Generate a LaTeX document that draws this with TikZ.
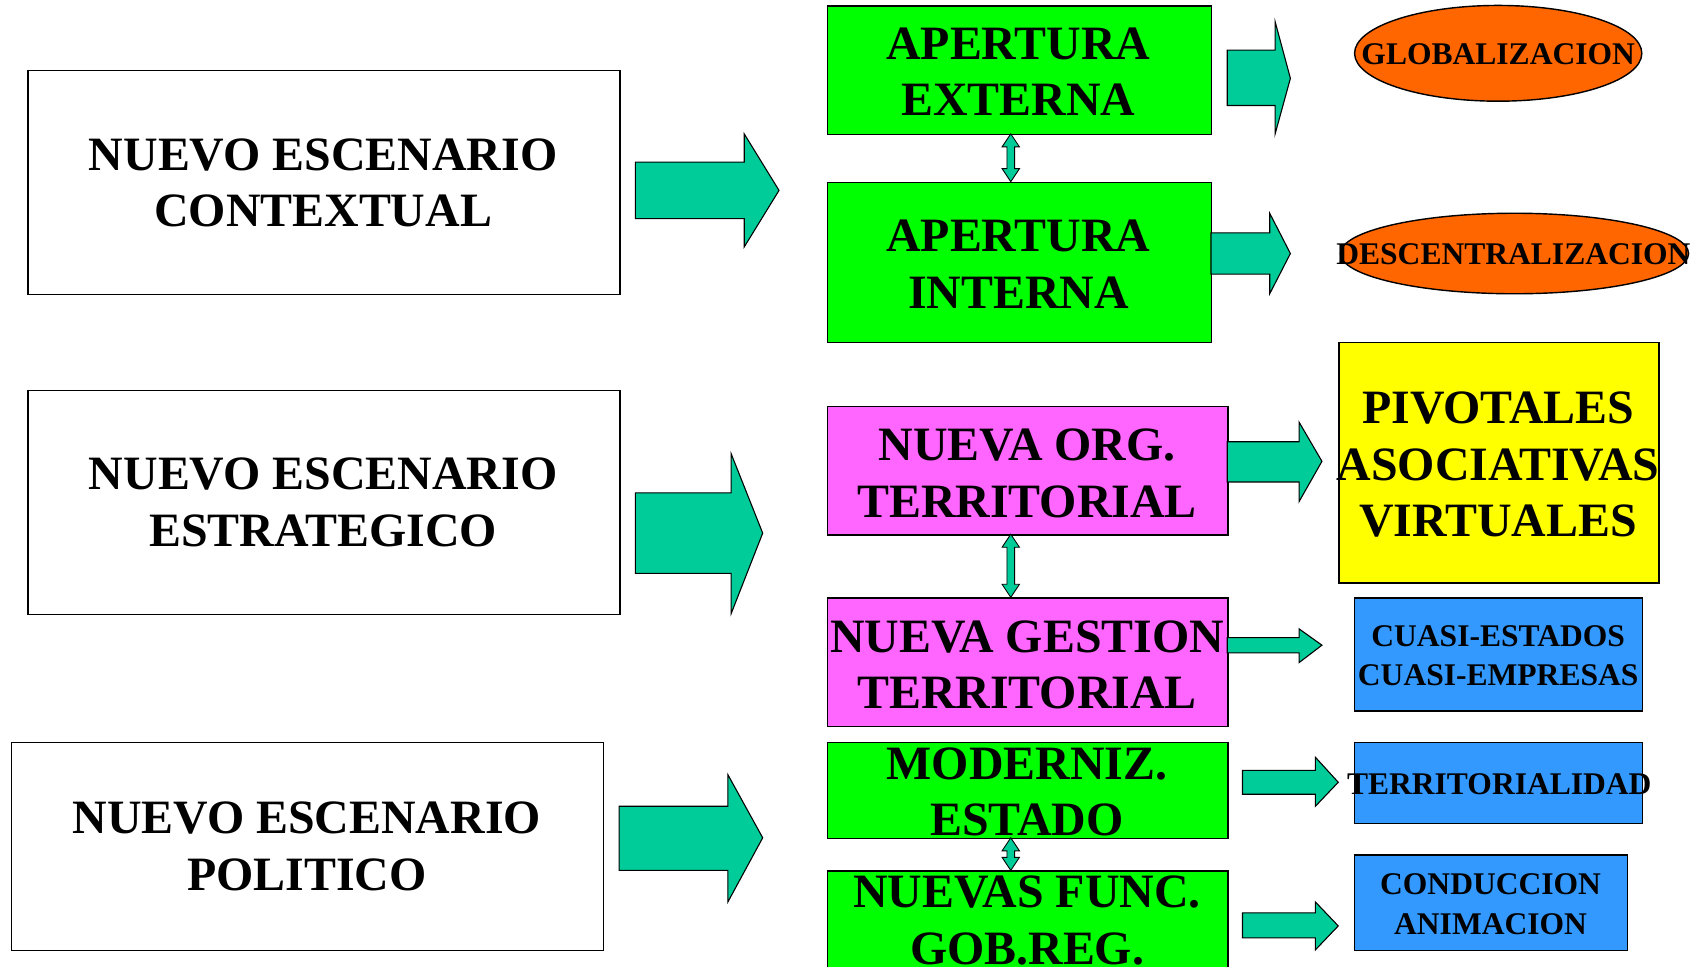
\documentclass[tikz,border=0pt]{standalone}
\usepackage{fontspec}
\setmainfont{Liberation Serif}
\begin{document}
\begin{tikzpicture}[x=1pt,y=-1pt,
  box/.style={draw=black, line width=1.3pt, rectangle, inner sep=0pt, anchor=north west},
  big/.style={font=\fontsize{44}{52}\selectfont\bfseries, align=center, inner sep=0pt, text=black},
  small/.style={font=\fontsize{29}{36}\selectfont\bfseries, align=center, inner sep=0pt, text=black},
  barrow/.style={fill=arrowc, draw=black, line width=1pt, line join=miter},
]
\definecolor{arrowc}{HTML}{00CC99}
\definecolor{greenc}{HTML}{00FF00}
\definecolor{pinkc}{HTML}{FF66FF}
\definecolor{orangec}{HTML}{FF6600}
\definecolor{yellowc}{HTML}{FFFF00}
\definecolor{bluec}{HTML}{3399FF}
\useasboundingbox (0,0) rectangle (1568,888);

% left boxes
\node[box, minimum width=544pt, minimum height=206pt] (L1) at (25,64) {};
\node[big] (L1t) at (297,168) {NUEVO ESCENARIO\\CONTEXTUAL};
\node[box, minimum width=544pt, minimum height=206pt] (L2) at (25,358) {};
\node[big] (L2t) at (297,462) {NUEVO ESCENARIO\\ESTRATEGICO};
\node[box, minimum width=544pt, minimum height=191pt] (L3) at (10,682) {};
\node[big] (L3t) at (282,778) {NUEVO ESCENARIO\\POLITICO};

% middle boxes
\node[box, fill=greenc, minimum width=353pt, minimum height=118pt] (M1) at (760,5) {};
\node[big] (M1t) at (936,66) {APERTURA\\EXTERNA};
\node[box, fill=greenc, minimum width=353pt, minimum height=147pt] (M2) at (760,167) {};
\node[big] (M2t) at (936,243) {APERTURA\\INTERNA};
\node[box, fill=pinkc, minimum width=368pt, minimum height=118pt] (M3) at (760,373) {};
\node[big] (M3t) at (944,435) {NUEVA ORG.\\TERRITORIAL};
\node[box, fill=pinkc, minimum width=368pt, minimum height=118pt] (M4) at (760,549) {};
\node[big] (M4t) at (944,611) {NUEVA GESTION\\TERRITORIAL};
\node[box, fill=greenc, minimum width=368pt, minimum height=88pt] (M5) at (760,682) {};
\node[big] (M5t) at (944,728) {MODERNIZ.\\ESTADO};
\node[box, fill=greenc, minimum width=368pt, minimum height=96pt] (M6) at (760,800) {};
\node[big] (M6t) at (944,846) {NUEVAS FUNC.\\GOB.REG.};

% right shapes
\draw[fill=orangec, draw=black, line width=1.3pt] (1377,49) ellipse [x radius=132, y radius=44];
\node[small] (R1) at (1377,50) {GLOBALIZACION};
\draw[fill=orangec, draw=black, line width=1.3pt] (1392,233) ellipse [x radius=160, y radius=37];
\node[small] (R2) at (1391,234) {DESCENTRALIZACION};
\node[box, fill=yellowc, minimum width=294pt, minimum height=221pt] (R3) at (1230,314) {};
\node[big] (R3t) at (1377,427) {PIVOTALES\\ASOCIATIVAS\\VIRTUALES};
\node[box, fill=bluec, minimum width=265pt, minimum height=104pt] (R4) at (1244,549) {};
\node[small] (R4t) at (1377,603) {CUASI-ESTADOS\\CUASI-EMPRESAS};
\node[box, fill=bluec, minimum width=265pt, minimum height=74pt] (R5) at (1244,682) {};
\node[small] (R5t) at (1378,721) {TERRITORIALIDAD};
\node[box, fill=bluec, minimum width=251pt, minimum height=88pt] (R6) at (1244,785) {};
\node[small] (R6t) at (1370,831) {CONDUCCION\\ANIMACION};

% big block arrows (left column)
\draw[barrow] (584,149) -- (684,149) -- (684,123) -- (716,175) -- (684,227) -- (684,201) -- (584,201) -- cycle;
\draw[barrow] (584,453) -- (672,453) -- (672,417) -- (701,490) -- (672,564) -- (672,527) -- (584,527) -- cycle;
\draw[barrow] (569,741) -- (669,741) -- (669,712) -- (701,770) -- (669,829) -- (669,800) -- (569,800) -- cycle;

% right block arrows
\draw[barrow] (1128,46) -- (1172,46) -- (1172,20) -- (1186,72) -- (1172,123) -- (1172,97) -- (1128,97) -- cycle;
\draw[barrow] (1113,214) -- (1167,214) -- (1167,196) -- (1186,233) -- (1167,270) -- (1167,252) -- (1113,252) -- cycle;
\draw[barrow] (1128,406) -- (1194,406) -- (1194,388) -- (1215,424) -- (1194,461) -- (1194,443) -- (1128,443) -- cycle;
\draw[barrow] (1128,586) -- (1194,586) -- (1194,578) -- (1215,593) -- (1194,609) -- (1194,600) -- (1128,600) -- cycle;
\draw[barrow] (1142,708) -- (1209,708) -- (1209,696) -- (1230,719) -- (1209,741) -- (1209,730) -- (1142,730) -- cycle;
\draw[barrow] (1142,839) -- (1209,839) -- (1209,829) -- (1230,851) -- (1209,873) -- (1209,862) -- (1142,862) -- cycle;

% double arrows between middle boxes
\foreach \ya/\yb in {123/167, 491/549, 770/800}{
  \draw[barrow, line width=0.8pt] (929,\ya) -- (937,\ya+12) -- (932.5,\ya+12) -- (932.5,\yb-12) -- (937,\yb-12)
    -- (929,\yb) -- (921,\yb-12) -- (925.5,\yb-12) -- (925.5,\ya+12) -- (921,\ya+12) -- cycle;
}
\end{tikzpicture}
\end{document}
